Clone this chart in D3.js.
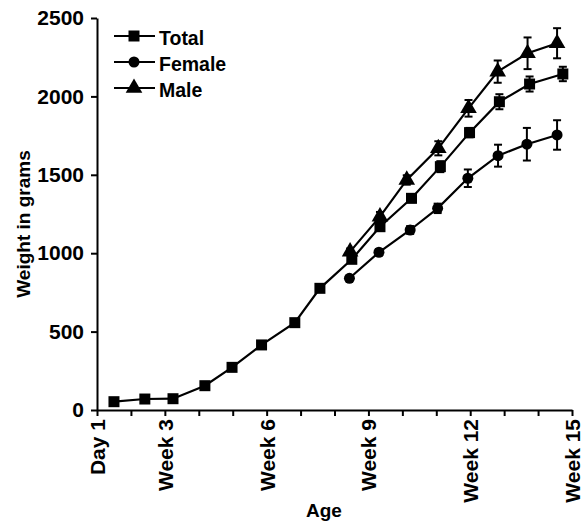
<!DOCTYPE html>
<html>
<head>
<meta charset="utf-8">
<script src="https://cdn.jsdelivr.net/npm/d3@7/dist/d3.min.js"></script>
<style>
  body { margin: 0; background: #fff; }
  text { font-family: "Liberation Sans", Arial, sans-serif; font-weight: bold; fill: #000; }
</style>
</head>
<body>
<svg id="chart" width="583" height="522"></svg>
<script>
// age in weeks (Day 1 = 1), weight in grams, error = SEM
var totalWeeks = [1.5, 2.41, 3.24, 4.18, 4.98, 5.85, 6.83, 7.57, 8.51, 9.34, 10.27, 11.12, 11.98, 12.86, 13.75, 14.73];
var totalWeight = [53, 70, 72, 155, 272, 415, 557, 776, 961, 1169, 1350, 1552, 1769, 1966, 2079, 2143];
var totalErr = [5, 5, 5, 8, 8, 10, 15, 10, 15, 20, 25, 35, 30, 48, 48, 46];

var femaleWeeks = [8.44, 9.31, 10.23, 11.04, 11.93, 12.82, 13.67, 14.56];
var femaleWeight = [840, 1006, 1148, 1286, 1478, 1622, 1695, 1754];
var femaleErr = [15, 20, 25, 30, 56, 70, 104, 94];

var maleWeeks = [8.46, 9.34, 10.13, 11.06, 11.95, 12.81, 13.69, 14.56];
var maleWeight = [1010, 1233, 1467, 1669, 1924, 2158, 2275, 2339];
var maleErr = [20, 30, 30, 45, 53, 71, 101, 96];

var tickWeeks = [1, 3, 6, 9, 12, 15];
var tickLabels = ["Day 1", "Week 3", "Week 6", "Week 9", "Week 12", "Week 15"];
var yTicks = [0, 500, 1000, 1500, 2000, 2500];

var series = [
  { name: "Total", weeks: totalWeeks, weight: totalWeight, err: totalErr, symbol: d3.symbolSquare, size: 121 },
  { name: "Female", weeks: femaleWeeks, weight: femaleWeight, err: femaleErr, symbol: d3.symbolCircle, size: 95 },
  { name: "Male", weeks: maleWeeks, weight: maleWeight, err: maleErr, symbol: d3.symbolTriangle, size: 120 }
];

var svg = d3.select("#chart"),
  margin = { top: 18, right: 11, bottom: 112, left: 97 },
  width = svg.attr("width") - margin.left - margin.right,
  height = svg.attr("height") - margin.top - margin.bottom,
  g = svg.append("g").attr("transform", "translate(" + margin.left + "," + margin.top + ")");

var x = d3.scaleLinear().domain([1, 15]).range([0, width]),
  y = d3.scaleLinear().domain([0, 2500]).range([height, 0]);

var line = d3.line()
  .x(function(d) { return x(d.week); })
  .y(function(d) { return y(d.value); });

series.forEach(function(s) {
  s.points = s.weeks.map(function(w, i) {
    return { week: w, value: s.weight[i], err: s.err[i] };
  });
});

// axes
var xAxis = g.append("g")
  .attr("transform", "translate(0," + height + ")")
  .call(d3.axisBottom(x)
    .tickValues(d3.range(1, 16))
    .tickSize(6)
    .tickSizeOuter(0)
    .tickFormat(function(d) {
      var i = tickWeeks.indexOf(d);
      return i < 0 ? "" : tickLabels[i];
    }));
xAxis.select(".domain").attr("stroke-width", 2);
xAxis.selectAll(".tick line").attr("stroke-width", 2);
xAxis.selectAll(".tick text")
  .attr("transform", "rotate(-90)")
  .attr("text-anchor", "end")
  .attr("x", -9)
  .attr("y", 0)
  .attr("dy", "0.36em")
  .style("font-size", "21px");

var yAxis = g.append("g")
  .call(d3.axisLeft(y).tickValues(yTicks).tickFormat(d3.format("d")).tickSize(6).tickSizeOuter(0));
yAxis.select(".domain").attr("stroke-width", 2);
yAxis.selectAll(".tick line").attr("stroke-width", 2);
yAxis.selectAll(".tick text")
  .attr("x", -13)
  .style("font-size", "21px");
svg.selectAll(".domain, .tick line").attr("stroke", "#000");

svg.append("text")
  .attr("x", 324)
  .attr("y", 517)
  .attr("text-anchor", "middle")
  .style("font-size", "19px")
  .text("Age");

svg.append("text")
  .attr("transform", "translate(30,224) rotate(-90)")
  .attr("text-anchor", "middle")
  .style("font-size", "19px")
  .text("Weight in grams");

// lines
g.selectAll(".series-line")
  .data(series)
  .enter()
  .append("path")
  .attr("class", "series-line")
  .attr("fill", "none")
  .attr("stroke", "#000")
  .attr("stroke-width", 2.2)
  .attr("d", function(s) { return line(s.points); });

// error bars
var bars = g.selectAll(".errs")
  .data(series)
  .enter()
  .append("g")
  .attr("class", "errs")
  .selectAll("g")
  .data(function(s) { return s.points; })
  .enter()
  .append("g")
  .attr("stroke", "#000")
  .attr("stroke-width", 2);
bars.append("line")
  .attr("x1", function(d) { return x(d.week); })
  .attr("x2", function(d) { return x(d.week); })
  .attr("y1", function(d) { return y(d.value - d.err); })
  .attr("y2", function(d) { return y(d.value + d.err); });
bars.selectAll(".cap")
  .data(function(d) { return [d.value - d.err, d.value + d.err].map(function(v) { return { week: d.week, v: v }; }); })
  .enter()
  .append("line")
  .attr("class", "cap")
  .attr("x1", function(d) { return x(d.week) - 4; })
  .attr("x2", function(d) { return x(d.week) + 4; })
  .attr("y1", function(d) { return y(d.v); })
  .attr("y2", function(d) { return y(d.v); });

// markers
series.forEach(function(s) {
  g.selectAll(".m-" + s.name)
    .data(s.points)
    .enter()
    .append("path")
    .attr("class", "m-" + s.name)
    .attr("d", d3.symbol().type(s.symbol).size(s.size))
    .attr("transform", function(d) { return "translate(" + x(d.week) + "," + y(d.value) + ")"; })
    .attr("fill", "#000");
});

// legend
var legend = svg.append("g").attr("transform", "translate(114,36)");
var rows = legend.selectAll("g")
  .data(series)
  .enter()
  .append("g")
  .attr("transform", function(d, i) { return "translate(0," + (i * 26) + ")"; });
rows.append("line")
  .attr("x1", 0).attr("x2", 41)
  .attr("stroke", "#000").attr("stroke-width", 2.2);
rows.append("path")
  .attr("d", function(s) { return d3.symbol().type(s.symbol).size(s.size)(); })
  .attr("transform", "translate(20,0)")
  .attr("fill", "#000");
rows.append("text")
  .attr("x", 45)
  .attr("y", 8.5)
  .style("font-size", "19.5px")
  .text(function(s) { return s.name; });
</script>
</body>
</html>
